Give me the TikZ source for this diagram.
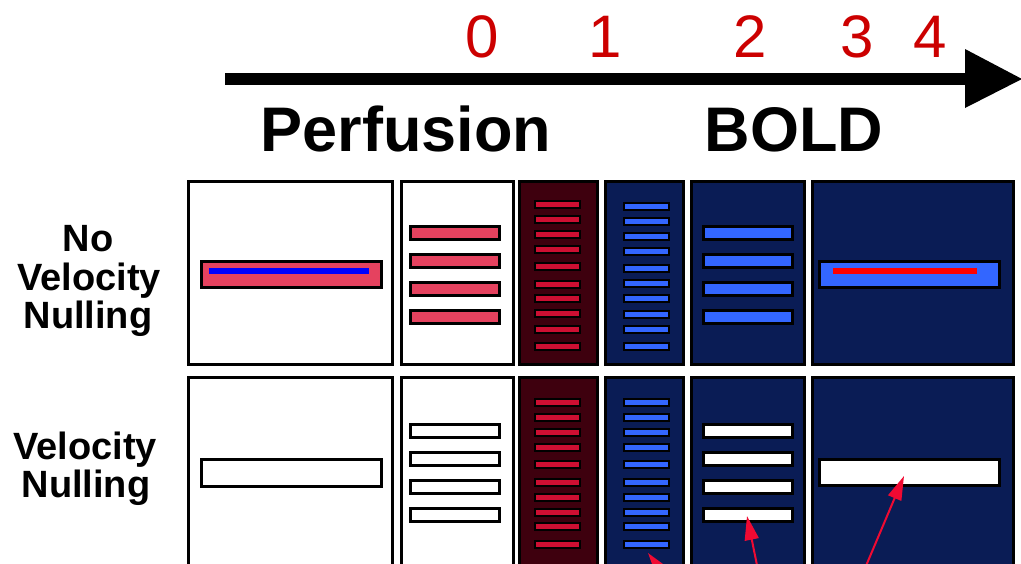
\documentclass[tikz,border=0pt]{standalone}
\usepackage{fontspec}
\setmainfont{Liberation Sans}
\usetikzlibrary{arrows.meta}
\definecolor{pinkbar}{RGB}{229,66,95}
\definecolor{darkredp}{RGB}{62,0,14}
\definecolor{crim}{RGB}{205,15,50}
\definecolor{navyp}{RGB}{10,28,85}
\definecolor{bluebar}{RGB}{51,102,255}
\definecolor{digitred}{RGB}{204,0,0}
\definecolor{arrowred}{RGB}{240,10,50}
\tikzset{
  panel/.style={draw=black, line width=3pt},
  bigbar/.style={draw=black, line width=3pt},
  smallbar/.style={draw=black, line width=2pt},
  digit/.style={anchor=base, inner sep=0pt, text=digitred, font=\fontsize{60}{60}\selectfont},
  title/.style={anchor=base, inner sep=0pt, font=\fontsize{63}{63}\selectfont\bfseries},
  rowlabel/.style={anchor=base, inner sep=0pt, font=\fontsize{38}{38}\selectfont\bfseries},
  pointer/.style={draw=arrowred, line width=2pt, -{Triangle[length=24pt,width=14pt]}},
}
\newcommand{\obox}[6]{\draw[#1,fill=#6] ({#2+1.5},{#3+1.5}) rectangle ({#4-1.5},{#5-1.5});}
\begin{document}
\begin{tikzpicture}[x=1pt,y=-1pt]
\clip (0,0) rectangle (1021,563);
\fill[white] (0,0) rectangle (1021,563);

% timeline
\coordinate (axs) at (225,79);
\coordinate (axe) at (966,79);
\draw[line width=12pt] (axs) -- (axe);
\fill (965,49) -- (1022,79) -- (965,108) -- cycle;
\node[digit] (d0) at (482,57) {0};
\node[digit] (d1) at (605,57) {1};
\node[digit] (d2) at (750,57) {2};
\node[digit] (d3) at (857,57) {3};
\node[digit] (d4) at (930,57) {4};
\node[title] (perf) at (406,151) {Perfusion};
\node[title] (bold) at (794,151) {BOLD};

% row labels
\node[rowlabel] (l1a) at (88,251) {No};
\node[rowlabel] (l1b) at (89,290) {Velocity};
\node[rowlabel] (l1c) at (88,328) {Nulling};
\node[rowlabel] (l2a) at (85,459) {Velocity};
\node[rowlabel] (l2b) at (86,497) {Nulling};

% ===== top row =====
\obox{panel}{187}{180}{394}{366}{white}
\obox{panel}{400}{180}{515}{366}{white}
\obox{panel}{518}{180}{599}{366}{darkredp}
\obox{panel}{604}{180}{685}{366}{navyp}
\obox{panel}{690}{180}{806}{366}{navyp}
\obox{panel}{811}{180}{1015}{366}{navyp}
% P1
\obox{bigbar}{200}{260}{383}{289}{pinkbar}
\fill[blue] (209,268) rectangle (369,274);
% P2
\foreach \t in {225,253,281,309} {\obox{bigbar}{409}{\t}{501}{\t+16}{pinkbar}}
% P3
\foreach \c in {204,219,234,249,266,284,298,313,329,346} {\draw[smallbar,fill=crim] (535,\c-3.5) rectangle (580,\c+3.5);}
% P4
\foreach \c in {206,221,236,251,268,283,298,314,329,346} {\draw[smallbar,fill=bluebar] (624,\c-3.5) rectangle (669,\c+3.5);}
% P5
\foreach \t in {225,253,281,309} {\obox{bigbar}{702}{\t}{794}{\t+16}{bluebar}}
% P6
\obox{bigbar}{818}{260}{1001}{289}{bluebar}
\fill[red] (833,268) rectangle (977,274);

% ===== bottom row =====
\obox{panel}{187}{376}{394}{600}{white}
\obox{panel}{400}{376}{515}{600}{white}
\obox{panel}{518}{376}{599}{600}{darkredp}
\obox{panel}{604}{376}{685}{600}{navyp}
\obox{panel}{690}{376}{806}{600}{navyp}
\obox{panel}{811}{376}{1015}{600}{navyp}
% P1
\obox{bigbar}{200}{458}{383}{488}{white}
% P2
\foreach \t in {423,451,479,507} {\obox{bigbar}{409}{\t}{501}{\t+16}{white}}
% P3
\foreach \c in {402,417,432,447,464,482,497,512,526,544} {\draw[smallbar,fill=crim] (535,\c-3.5) rectangle (580,\c+3.5);}
% P4
\foreach \c in {402,417,432,447,464,482,497,512,526,544} {\draw[smallbar,fill=bluebar] (624,\c-3.5) rectangle (669,\c+3.5);}
% P5
\foreach \t in {423,451,479,507} {\obox{bigbar}{702}{\t}{794}{\t+16}{white}}
% P6
\obox{bigbar}{818}{458}{1001}{487}{white}

% pointers
\coordinate (t1) at (648,553); \coordinate (s1) at (684,601);
\coordinate (t2) at (747,516); \coordinate (s2) at (760,580);
\coordinate (t3) at (904,476); \coordinate (s3) at (860,580);
\draw[pointer] (s1) -- (t1);
\draw[pointer] (s2) -- (t2);
\draw[pointer] (s3) -- (t3);
\end{tikzpicture}
\end{document}
